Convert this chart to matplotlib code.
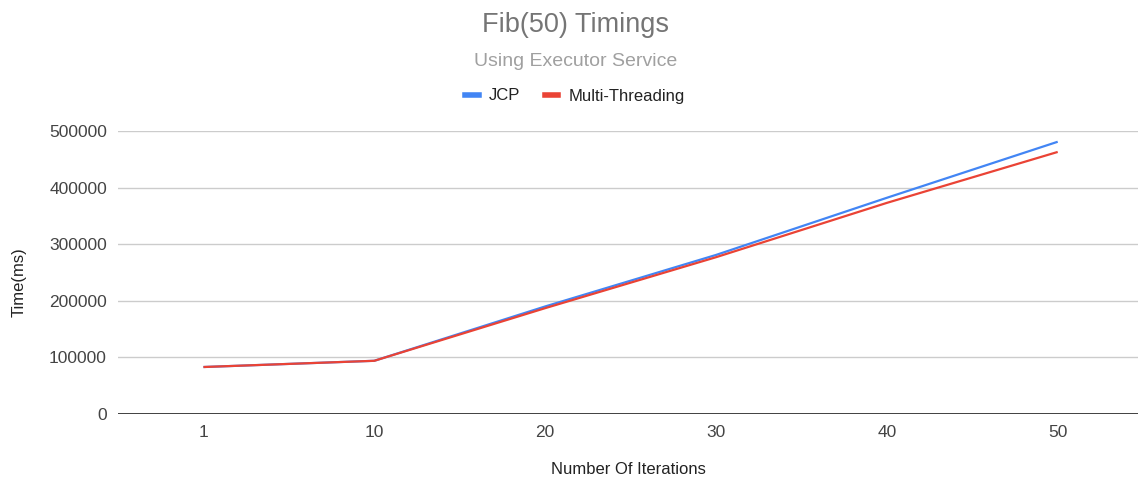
import matplotlib
matplotlib.use("Agg")
import matplotlib.pyplot as plt
from matplotlib.lines import Line2D

plt.rcParams['font.family'] = ['Liberation Sans', 'DejaVu Sans']

iterations = ["1", "10", "20", "30", "40", "50"]
jcp = [83000, 94000, 190000, 281000, 382000, 481000]
multi_threading = [83000, 94000, 187000, 277000, 373000, 463000]

blue = "#4285F4"
red = "#EA4335"

fig = plt.figure(figsize=(11.38, 4.82), dpi=100)
ax = fig.add_axes([118/1138, 1-414/482, 1-118/1138, (414-131)/482])

x = list(range(len(iterations)))
ax.plot(x, jcp, color=blue, lw=1.6, solid_capstyle='butt', zorder=3)
ax.plot(x, multi_threading, color=red, lw=1.6, solid_capstyle='butt', zorder=4)

ax.set_xlim(-0.5, 5.47)
ax.set_ylim(0, 500000)
ax.set_yticks([0, 100000, 200000, 300000, 400000, 500000])
ax.set_yticklabels(["0", "100000", "200000", "300000", "400000", "500000"])
ax.set_xticks(x)
ax.set_xticklabels(iterations)
ax.tick_params(axis='both', length=0, labelsize=12.5, labelcolor="#444444")
ax.tick_params(axis='y', pad=8)
ax.tick_params(axis='x', pad=8)
ax.grid(axis='y', color="#cccccc", lw=1)
ax.set_axisbelow(True)
for s in ax.spines.values():
    s.set_visible(False)
ax.axhline(0, color="#333333", lw=1.3, zorder=2)

fig.text(628/1138, 1-470/482, "Number Of Iterations", ha='center', va='center',
         fontsize=12, color="#222222")
fig.text(19/1138, 1-282/482, "Time(ms)", ha='center', va='center', rotation=90,
         fontsize=12, color="#222222")

fig.text(575/1138, 1-25/482, "Fib(50) Timings", ha='center', va='center',
         fontsize=19.5, color="#757575")
fig.text(576/1138, 1-62/482, "Using Executor Service", ha='center', va='center',
         fontsize=14, color="#a0a0a0")

handles = [Line2D([], [], color=blue, lw=4), Line2D([], [], color=red, lw=4)]
fig.legend(handles, ["JCP", "Multi-Threading"], loc='center',
           bbox_to_anchor=(575/1138, 1-96/482), ncol=2, frameon=False,
           fontsize=12, handlelength=0.8, handletextpad=0.6, columnspacing=1.5,
           labelcolor="#222222")

fig.savefig("out.png", dpi=100)
